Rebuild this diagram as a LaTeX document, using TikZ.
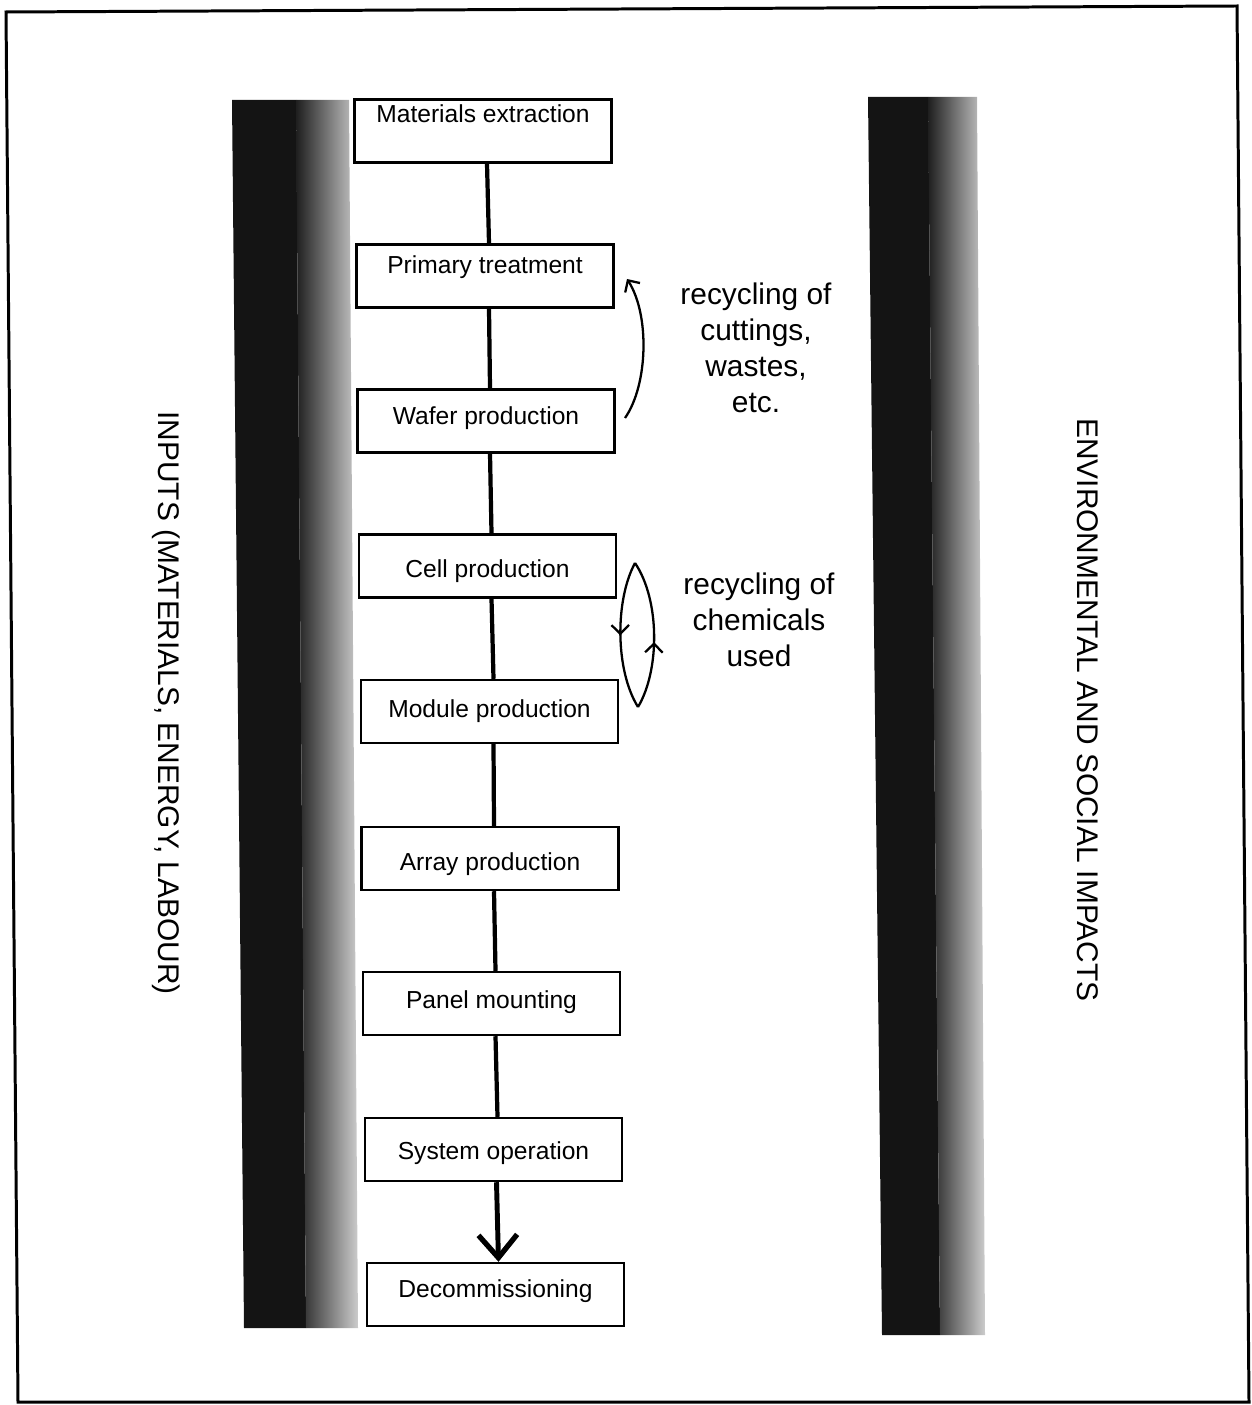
\documentclass[tikz,border=0pt]{standalone}
\usepackage{fontspec}
\setmainfont{Liberation Sans}
\usetikzlibrary{arrows.meta,decorations.markings}
\begin{document}
\begin{tikzpicture}[x=0.02cm,y=-0.02cm,
  box/.style={draw,line width=1.4pt,minimum width=5.14cm,minimum height=1.26cm,inner sep=0pt},
  boxtext/.style={anchor=base,inner sep=0pt,font=\fontsize{14}{16.8}\selectfont},
  conn/.style={line width=2.4pt},
  note/.style={align=center,inner sep=0pt,font=\fontsize{17}{20.4}\selectfont},
  sidetext/.style={rotate=-90,inner sep=0pt,font=\fontsize{17}{20.4}\selectfont},
  recyc/.style={line width=1.3pt},
  midarrow/.style={decoration={markings,mark=at position #1 with {\arrow{Straight Barb[length=5pt,width=10pt,line width=1.3pt]}}},postaction={decorate}}]
\useasboundingbox (0,0) rectangle (1251,1405);
% outer frame
\draw[line width=1.7pt] (6,12) -- (1237,6) -- (1249,1402) -- (18,1402) -- cycle;
% left bar
\fill[black!92] (232,100) -- (296,100) -- (306,1328) -- (244,1328) -- cycle;
\shade[left color=black!88,right color=black!20] (296,100) -- (349,100) -- (358,1328) -- (306,1328) -- cycle;
% right bar
\fill[black!92] (868,97) -- (928,97) -- (940,1335) -- (882,1335) -- cycle;
\shade[left color=black!88,right color=black!20] (928,97) -- (977,97) -- (985,1335) -- (940,1335) -- cycle;
% boxes
\node[box] (b1) at (483,131) {};
\node[box] (b2) at (485,276) {};
\node[box] (b3) at (486,421) {};
\node[box] (b4) at (487.5,566) {};
\node[box] (b5) at (489.5,711.5) {};
\node[box] (b6) at (490,858.5) {};
\node[box] (b7) at (491.5,1003.5) {};
\node[box] (b8) at (493.5,1149.5) {};
\node[box] (b9) at (495.5,1294.5) {};
\node[boxtext] (t1) at (483,123) {Materials extraction};
\node[boxtext] (t2) at (485,274) {Primary treatment};
\node[boxtext] (t3) at (486,424) {Wafer production};
\node[boxtext] (t4) at (487.5,577) {Cell production};
\node[boxtext] (t5) at (489.5,717) {Module production};
\node[boxtext] (t6) at (490,870) {Array production};
\node[boxtext] (t7) at (491.5,1008) {Panel mounting};
\node[boxtext] (t8) at (493.5,1159) {System operation};
\node[boxtext] (t9) at (495.5,1297) {Decommissioning};
% connectors
\foreach \a/\b in {b1/b2,b2/b3,b3/b4,b4/b5,b5/b6,b6/b7,b7/b8}
  \draw[conn] ([xshift=0.08cm]\a.south) -- ([xshift=0.08cm]\b.north);
\draw[line width=2.8pt,-{Straight Barb[length=13pt,width=22pt,line width=3pt]}] ([xshift=0.06cm]b8.south) -- ([xshift=0.06cm]b9.north);
% recycling arrows
\coordinate (r1a) at (625,418);
\coordinate (r1b) at (627,279);
\draw[recyc,-{Straight Barb[length=5pt,width=10pt,line width=1.3pt]}] (r1a) .. controls (648,385) and (650,315) .. (r1b);
\coordinate (r2t) at (635,563);
\coordinate (r2b) at (638,707);
\draw[recyc,midarrow=0.5] (r2t) .. controls (615,600) and (615,670) .. (r2b);
\draw[recyc,midarrow=0.45] (r2b) .. controls (660,670) and (660,600) .. (r2t);
% notes
\node[note] (n1) at (756,348) {recycling of\\cuttings,\\wastes,\\etc.};
\node[note] (n2) at (759,620) {recycling of\\chemicals\\used};
% side texts
\node[sidetext] (inp) at (166,703) {INPUTS (MATERIALS, ENERGY, LABOUR)};
\node[sidetext] (imp) at (1088,710) {ENVIRONMENTAL AND SOCIAL IMPACTS};
\end{tikzpicture}
\end{document}
